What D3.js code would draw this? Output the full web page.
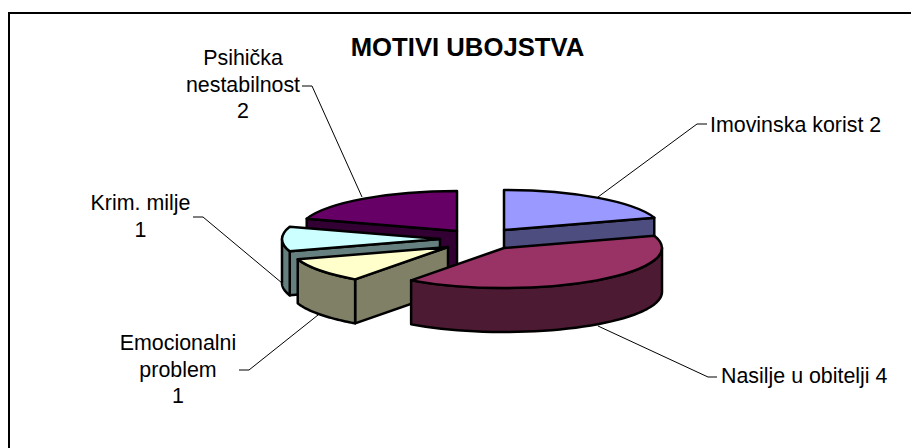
<!DOCTYPE html>
<html><head><meta charset="utf-8">
<script src="https://cdn.jsdelivr.net/npm/d3@7/dist/d3.min.js"></script>
<style>html,body{margin:0;padding:0;background:#fff}svg{display:block}text{font-family:"Liberation Sans",Arial,sans-serif;fill:#000}</style>
</head><body><svg id="c" width="911" height="448"></svg>
<script>
const categories = ["Imovinska korist","Nasilje u obitelji","Emocionalni problem","Krim. milje","Psihička nestabilnost"];
const values = [2,4,1,1,2];
const topColors = ["#9999ff","#993366","#ffffcc","#ccffff","#660066"];
const sideColors = ["#4d4d80","#4d1a33","#808066","#668080","#330033"];
const title = "MOTIVI UBOJSTVA";
const labelLines = [["Imovinska korist 2"],["Nasilje u obitelji 4"],["Emocionalni","problem","1"],["Krim. milje","1"],["Psihička","nestabilnost","2"]];

// layout (not data)
const centres = [[504,230],[504,248],[448,247],[440,239],[457,231]];
const rx = 158, ry = 40, depth = 44;
const drawOrder = [4,0,3,2,1];
const labelPos = [
  {x:710,y:132,anchor:"start"},{x:721,y:383,anchor:"start"},
  {x:178,y:350,anchor:"middle"},{x:140.5,y:210,anchor:"middle"},{x:243,y:65,anchor:"middle"}];
const leaders = [
  [[707,124],[697,124],[598,197]],
  [[717,377],[708,377],[598,326]],
  [[239,370],[249,370],[318,315]],
  [[193,217],[203,217],[282,283]],
  [[302,86],[312,86],[362,197]]];

const svg = d3.select("#c");
svg.append("path").attr("d","M9,448V13H911").attr("fill","none").attr("stroke","#000").attr("stroke-width",2);
svg.append("text").attr("x",467.5).attr("y",56).attr("text-anchor","middle")
  .attr("font-size",25.7).attr("font-weight","bold").text(title);

const arcs = d3.pie().sort(null)(values);
const arcGen = d3.arc().innerRadius(0).outerRadius(rx);
const line = d3.line();
const pt = (c,a,dy=0)=>[c[0]+rx*Math.sin(a), c[1]-ry*Math.cos(a)+dy];
const SW = 2.5;

leaders.forEach(l=>svg.append("path").attr("d",line(l)).attr("fill","none").attr("stroke","#000").attr("stroke-width",1));

drawOrder.forEach(i=>{
  const a = arcs[i], c = centres[i], g = svg.append("g");
  const face = d=>g.append("path").attr("d",d).attr("fill",sideColors[i]).attr("stroke","#000")
      .attr("stroke-width",SW).attr("stroke-linejoin","round");
  const radial = ang=>{const p=pt(c,ang);face(line([c,p,[p[0],p[1]+depth],[c[0],c[1]+depth]])+"Z");};
  if(Math.sin(a.startAngle)<-1e-6) radial(a.startAngle);
  if(Math.sin(a.endAngle)>1e-6) radial(a.endAngle);
  const lo = Math.max(a.startAngle,Math.PI/2), hi = Math.min(a.endAngle,3*Math.PI/2);
  if(hi>lo){
    const samples = d3.range(0,41).map(k=>lo+(hi-lo)*k/40);
    const top = samples.map(s=>pt(c,s)), bot = samples.map(s=>pt(c,s,depth)).reverse();
    face(line(top.concat(bot))+"Z");
  }
  g.append("path").attr("d",arcGen({startAngle:a.startAngle,endAngle:a.endAngle}))
    .attr("transform",`translate(${c[0]},${c[1]}) scale(1,${ry/rx})`)
    .attr("vector-effect","non-scaling-stroke")
    .attr("fill",topColors[i]).attr("stroke","#000").attr("stroke-width",SW).attr("stroke-linejoin","round");
});

labelLines.forEach((ls,i)=>{
  const p = labelPos[i];
  const t = svg.append("text").attr("text-anchor",p.anchor).attr("font-size",21.4);
  ls.forEach((s,k)=>t.append("tspan").attr("x",p.x).attr("y",p.y+k*26.6).text(s));
});
</script></body></html>
